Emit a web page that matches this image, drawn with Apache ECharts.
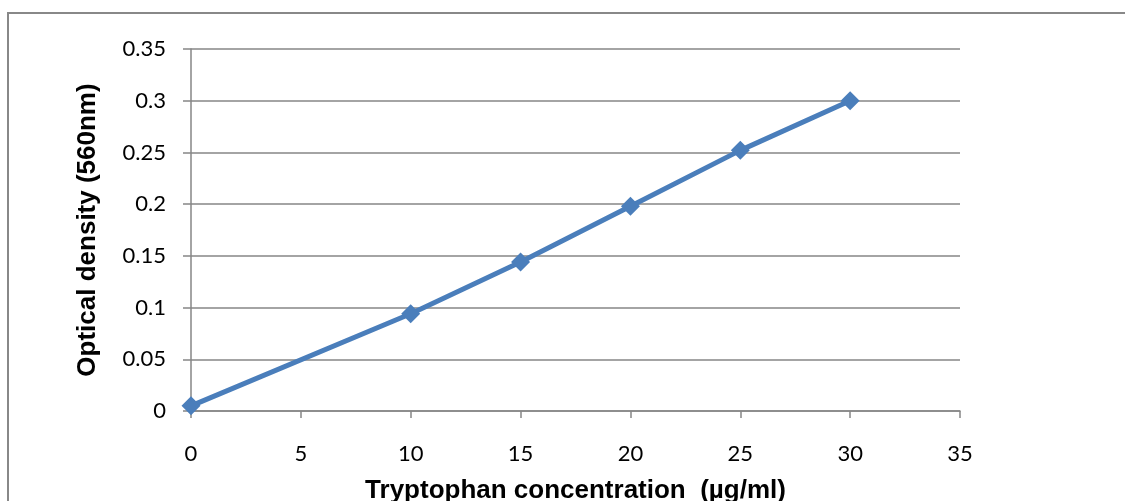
<!DOCTYPE html>
<html lang="en">
<head>
    <meta charset="UTF-8">
    <title>Tryptophan standard curve</title>
    <script src="https://cdn.jsdelivr.net/npm/echarts@6/dist/echarts.min.js"></script>
    <style>
        html, body { margin: 0; padding: 0; background: #fff; }
    </style>
</head>
<body>
    <div id="main" style="width: 1125px;height: 501px;"></div>
    <script>
        // concentration (ug/ml) and OD readings
        var concentration = [0, 10, 15, 20, 25, 30];
        var opticalDensity = [0.005, 0.094, 0.144, 0.198, 0.252, 0.300];

        var points = [];
        for (var i = 0; i < concentration.length; i++) {
            points.push([concentration[i], opticalDensity[i]]);
        }

        var myChart = echarts.init(document.getElementById('main'));
        var axisGrey = '#868686';

        var option = {
            animation: false,
            backgroundColor: '#fff',
            // title is cut off at the bottom like the original, so don't let the grid shrink
            grid: { left: 191, right: 165, top: 49, bottom: 90, outerBoundsMode: 'none', containLabel: false },
            graphic: [{
                type: 'rect',
                shape: { x: 8, y: 13, width: 1140, height: 520 },
                style: { fill: 'none', stroke: '#888', lineWidth: 2 }
            }],
            xAxis: {
                type: 'value',
                min: 0, max: 35, interval: 5,
                name: 'Tryptophan concentration  (\u00b5g/ml)',
                nameLocation: 'middle',
                nameGap: 67,
                nameTextStyle: { fontFamily: 'Liberation Sans', fontWeight: 'bold', fontSize: 26, color: '#000' },
                axisLine: { lineStyle: { color: axisGrey, width: 1.5 } },
                axisTick: { show: true, length: 7, lineStyle: { color: axisGrey, width: 1.5 } },
                axisLabel: { fontFamily: 'Lato', fontSize: 22, color: '#000', margin: 32 },
                splitLine: { show: false }
            },
            yAxis: {
                type: 'value',
                min: 0, max: 0.35, interval: 0.05,
                name: 'Optical density (560nm)',
                nameLocation: 'middle',
                nameRotate: 90,
                nameGap: 90,
                nameTextStyle: { fontFamily: 'Liberation Sans', fontWeight: 'bold', fontSize: 26, color: '#000' },
                axisLine: { show: true, lineStyle: { color: axisGrey, width: 1.5 } },
                axisTick: { show: true, length: 8, lineStyle: { color: axisGrey, width: 1.5 } },
                axisLabel: { fontFamily: 'Lato', fontSize: 22, color: '#000', margin: 25 },
                splitLine: { show: true, lineStyle: { color: axisGrey, width: 1.5 } }
            },
            series: [{
                type: 'line',
                data: points,
                symbol: 'diamond',
                symbolSize: 19,
                lineStyle: { color: '#4a7ebb', width: 5 },
                itemStyle: { color: '#4a7ebb' }
            }]
        };

        myChart.setOption(option);
    </script>
</body>
</html>
